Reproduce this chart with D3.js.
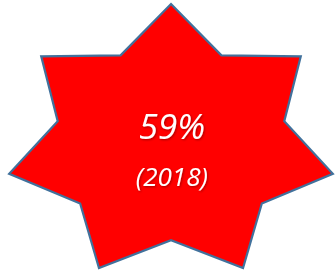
<!DOCTYPE html>
<html>
<head>
<meta charset="utf-8">
<script src="https://cdn.jsdelivr.net/npm/d3@7"></script>
<style>
  body { margin: 0; background: #fff; }
</style>
</head>
<body>
<div id="chart"></div>
<script>
// star shape + label data
let pointCount = 7;
let radii = [1, 0.70];          // outer, inner (relative)
let labels = ["59%", "(2018)"];
let labelSizes = [35, 26];

let width = 335, height = 274;

let svg = d3.select("#chart")
    .append("svg")
    .attr("width", width)
    .attr("height", height);

// unit space -> pixels (star is stretched a bit wider than tall)
let x = d3.scaleLinear().domain([-1, 1]).range([5, 337]);
let y = d3.scaleLinear().domain([1, -1]).range([4, 281.8]);

let vertices = d3.range(pointCount * 2).map(function(i) {
    let a = i * Math.PI / pointCount;
    let r = radii[i % 2];
    return [x(r * Math.sin(a)), y(r * Math.cos(a))];
});

svg.append("path")
    .attr("d", d3.line()(vertices) + "Z")
    .attr("fill", "#ff0000")
    .attr("stroke", "#41719c")
    .attr("stroke-width", 2.2)
    .attr("stroke-linejoin", "miter");

let defs = svg.append("defs");
let f = defs.append("filter").attr("id", "shadow")
    .attr("x", "-20%").attr("y", "-20%").attr("width", "140%").attr("height", "140%");
f.append("feDropShadow")
    .attr("dx", 1).attr("dy", 1).attr("stdDeviation", 0.8)
    .attr("flood-color", "#000").attr("flood-opacity", 0.35);

let baselines = [y(0.03), y(-0.31)];

svg.selectAll("text.lbl")
    .data(labels)
    .enter()
    .append("text")
    .attr("class", "lbl")
    .attr("x", x(0.005))
    .attr("y", function(d, i) { return baselines[i]; })
    .style("text-anchor", "middle")
    .style("font-family", "'Open Sans', 'Liberation Sans', sans-serif")
    .style("font-style", "italic")
    .style("font-size", function(d, i) { return labelSizes[i] + "px"; })
    .attr("fill", "#fff")
    .attr("filter", "url(#shadow)")
    .text(function(d) { return d; });
</script>
</body>
</html>
